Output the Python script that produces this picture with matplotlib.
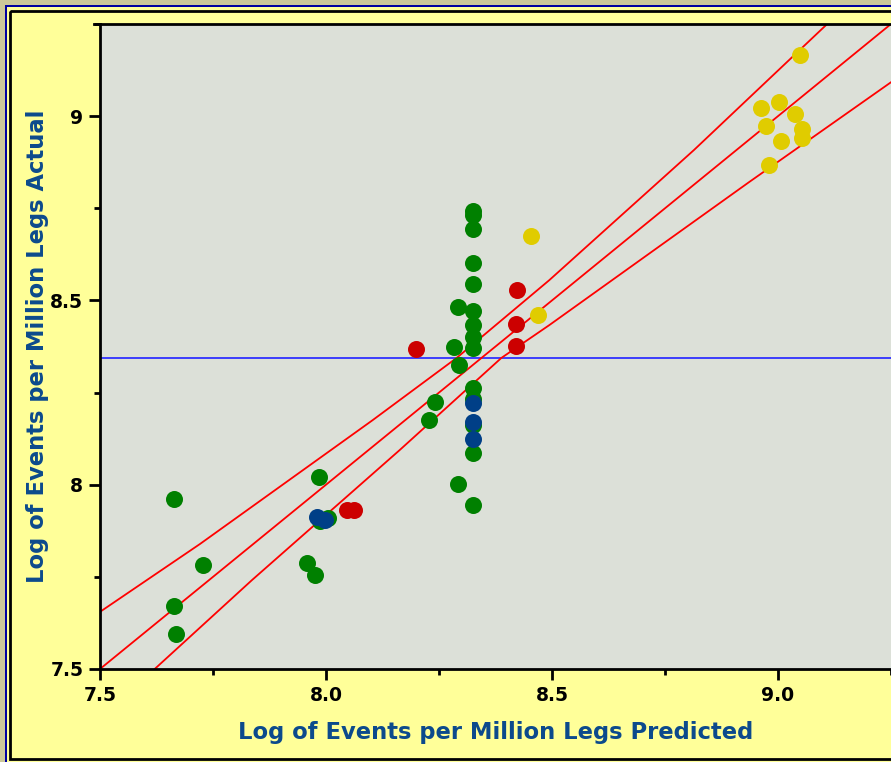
import matplotlib
matplotlib.use("Agg")
import matplotlib.pyplot as plt
from matplotlib.patches import Rectangle
from matplotlib.ticker import MultipleLocator

# Points, grouped by colour
green_x = [7.663, 7.728, 7.663, 7.668, 7.984, 7.959, 7.975, 7.986, 8.004,
           8.227, 8.242, 8.291, 8.326, 8.291, 8.284, 8.295,
           8.326, 8.326, 8.326, 8.326, 8.326, 8.326, 8.326, 8.326, 8.326,
           8.326, 8.326, 8.326, 8.326]
green_y = [7.961, 7.782, 7.671, 7.595, 8.021, 7.787, 7.755, 7.901, 7.910,
           8.175, 8.224, 8.002, 7.945, 8.482, 8.373, 8.325,
           8.742, 8.731, 8.693, 8.601, 8.544, 8.471, 8.433, 8.400, 8.371,
           8.262, 8.232, 8.162, 8.086]
blue_x = [7.979, 7.997, 8.326, 8.326, 8.326]
blue_y = [7.912, 7.904, 8.221, 8.170, 8.124]
red_x = [8.046, 8.063, 8.200, 8.423, 8.421, 8.421]
red_y = [7.931, 7.931, 8.368, 8.528, 8.436, 8.376]
yellow_x = [8.454, 8.470, 9.048, 8.962, 9.002, 9.037, 8.973, 9.053, 9.053, 9.007, 8.980]
yellow_y = [8.674, 8.460, 9.165, 9.022, 9.038, 9.005, 8.973, 8.965, 8.940, 8.932, 8.867]

# fit line and band curves
fit_x = [7.5, 9.25]
fit_y = [7.5, 9.25]
upper_x = [7.5, 7.721, 8.103, 8.289, 8.494, 8.814, 9.108, 9.25]
upper_y = [7.655, 7.839, 8.175, 8.344, 8.555, 8.908, 9.249, 9.41]
lower_x = [7.5, 7.621, 7.836, 8.163, 8.388, 8.494, 8.936, 9.25]
lower_y = [7.36, 7.5, 7.741, 8.094, 8.344, 8.433, 8.821, 9.092]
mean_y = 8.344

W, H = 891, 762
fig = plt.figure(figsize=(W / 100, H / 100), dpi=100)
fig.patch.set_facecolor("#ccc899")

# frame: blue line, yellow panel, black border
frame = fig.add_axes([0, 0, 1, 1], zorder=0)
frame.set_xlim(0, W)
frame.set_ylim(H, 0)
frame.axis("off")
frame.add_patch(Rectangle((5, 5), W, H, facecolor="#0000a0", edgecolor="none"))
frame.add_patch(Rectangle((7, 7), W, H, facecolor="#ffff99", edgecolor="none"))
frame.add_patch(Rectangle((10, 11), W, 748, facecolor="none", edgecolor="black", linewidth=2))
frame.plot([94, 100], [24, 24], color="black", linewidth=2)

ax = fig.add_axes([100 / W, 93 / H, 791 / W, 645 / H], zorder=2)
ax.set_facecolor("#dce0d8")

ax.axhline(mean_y, color="#3030ff", linewidth=1.3, zorder=2)
ax.plot(fit_x, fit_y, color="#ff0000", linewidth=1.3, zorder=2)
ax.plot(upper_x, upper_y, color="#ff0000", linewidth=1.3, zorder=2)
ax.plot(lower_x, lower_y, color="#ff0000", linewidth=1.3, zorder=2)

s = 150
ax.scatter(green_x, green_y, s=s, color="#008000", linewidths=0, zorder=3)
ax.scatter(blue_x, blue_y, s=s, color="#003f87", linewidths=0, zorder=3)
ax.scatter(red_x, red_y, s=s, color="#cc0000", linewidths=0, zorder=3)
ax.scatter(yellow_x, yellow_y, s=s, color="#e0cc00", linewidths=0, zorder=3)

ax.set_xlim(7.5, 9.25)
ax.set_ylim(7.5, 9.25)
ax.xaxis.set_minor_locator(MultipleLocator(0.25))
ax.yaxis.set_minor_locator(MultipleLocator(0.25))
ax.set_xticks([7.5, 8.0, 8.5, 9.0])
ax.set_xticklabels(["7.5", "8.0", "8.5", "9.0"])
ax.set_yticks([7.5, 8.0, 8.5, 9.0])
ax.set_yticklabels(["7.5", "8", "8.5", "9"])

ax.spines["right"].set_visible(False)
for sp in ["left", "bottom", "top"]:
    ax.spines[sp].set_linewidth(2)
ax.tick_params(which="major", length=8, width=2, labelsize=13.5, pad=4)
ax.tick_params(which="minor", length=4, width=2)
for lab in ax.get_xticklabels() + ax.get_yticklabels():
    lab.set_fontweight("bold")

lab_color = "#0c4a8c"
ax.set_xlabel("Log of Events per Million Legs Predicted", fontsize=16.3, fontweight="bold",
              color=lab_color, labelpad=12)
ax.set_ylabel("Log of Events per Million Legs Actual", fontsize=16.3, fontweight="bold",
              color=lab_color, labelpad=1)

fig.savefig("out.png", dpi=100, facecolor=fig.get_facecolor())
